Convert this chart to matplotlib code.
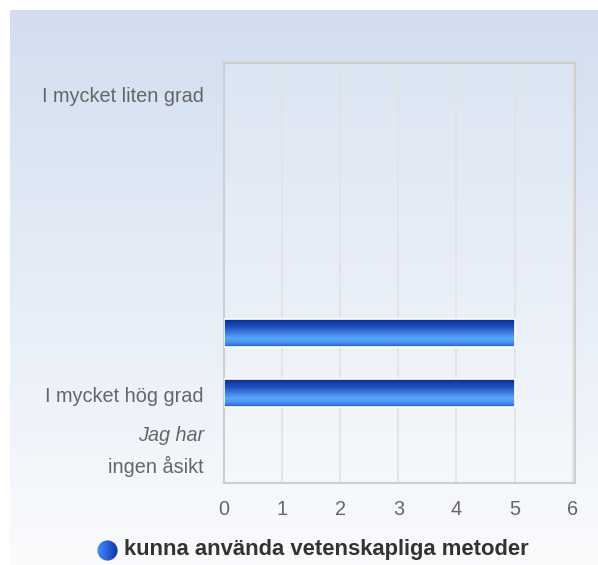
import numpy as np
import matplotlib.pyplot as plt
from matplotlib.colors import LinearSegmentedColormap
from matplotlib.patches import Circle

# data
categories = ["I mycket liten grad", "", "", "", "", "I mycket hög grad", "Jag har ingen åsikt"]
values = [0, 0, 0, 0, 5, 5, 0]
series_name = "kunna använda vetenskapliga metoder"
x_ticks = [0, 1, 2, 3, 4, 5, 6]

W, H = 598, 565
FS = 14.3
fig = plt.figure(figsize=(W / 100, H / 100), dpi=100)
fig.patch.set_facecolor("white")

# background gradient panel
bg_cmap = LinearSegmentedColormap.from_list("bg", ["#d2deef", "#e6edf7", "#fafbfd"])
bg = fig.add_axes([10 / W, 0, 1 - 10 / W, 1 - 10 / H])
bg.imshow(np.linspace(0, 1, 256).reshape(-1, 1), aspect="auto", cmap=bg_cmap,
          extent=[0, 1, 0, 1])
bg.set_axis_off()

# plot area
left, right, top, bottom = 224, 575, 63, 483
ax = fig.add_axes([left / W, 1 - bottom / H, (right - left) / W, (bottom - top) / H])
ax.set_facecolor((1, 1, 1, 0.15))

y = np.arange(len(categories))
bars = ax.barh(y, values, height=0.47, color="#2a6ad8", edgecolor="none", zorder=3)

bar_cmap = LinearSegmentedColormap.from_list(
    "bar", [(0.0, "#0a2a86"), (0.3, "#1d4fc0"), (0.7, "#5aa6fb"), (0.85, "#4a92f0"), (1.0, "#1f62d6")])
grad = np.linspace(0, 1, 64).reshape(-1, 1)
for b in bars:
    if b.get_width() <= 0:
        continue
    x0, y0 = b.get_x(), b.get_y()
    w, h = b.get_width(), b.get_height()
    im = ax.imshow(grad, aspect="auto", cmap=bar_cmap, extent=[x0, x0 + w, y0 + h, y0],
                   zorder=3.5)
    im.set_clip_path(b)
    ax.add_patch(plt.Rectangle((x0, y0), w, h, fill=False, edgecolor="white", linewidth=1.2, zorder=4))

ax.set_xlim(0, 6.04)
ax.set_ylim(len(categories) - 0.5, -0.5)
ax.set_xticks(x_ticks)
ax.set_xticklabels([str(t) for t in x_ticks], fontsize=FS, color="#666666",
                   fontfamily="Liberation Sans")
ax.tick_params(axis="x", length=0, pad=12)
ax.tick_params(axis="y", length=0)
ax.set_yticks(y)
ax.set_yticklabels([])
ax.grid(axis="x", color="#e2e2e2", linewidth=1.2, zorder=0)
ax.set_axisbelow(True)
for s in ax.spines.values():
    s.set_color("#cfcfcf")
    s.set_linewidth(1.5)

# category labels
lx = -20 / 58
for i, lab in enumerate(categories):
    if not lab:
        continue
    if lab == "Jag har ingen åsikt":
        ax.text(lx, i - 0.3, "Jag har", ha="right", va="center", fontsize=FS,
                color="#666666", style="italic", fontfamily="Liberation Sans")
        ax.text(lx, i + 0.23, "ingen åsikt", ha="right", va="center", fontsize=FS,
                color="#666666", fontfamily="Liberation Sans")
    else:
        ax.text(lx, i + 0.05, lab, ha="right", va="center", fontsize=FS,
                color="#666666", fontfamily="Liberation Sans")

# legend
fig.text(124 / W, 1 - 549 / H, series_name, ha="left", va="center", fontsize=15.8,
         fontweight="bold", color="#333333", fontfamily="Liberation Sans")
lg = fig.add_axes([97 / W, 1 - 561 / H, 21 / W, 21 / H])
lg.set_axis_off()
lg.set_xlim(0, 1)
lg.set_ylim(0, 1)
circ = Circle((0.5, 0.5), 0.48, transform=lg.transData, facecolor="none", edgecolor="none")
lg.add_patch(circ)
leg_cmap = LinearSegmentedColormap.from_list("leg", ["#4a8ef5", "#2a62d8", "#13309a"])
im = lg.imshow(np.linspace(0, 1, 64).reshape(1, -1), aspect="auto", cmap=leg_cmap,
               extent=[0, 1, 0, 1])
im.set_clip_path(circ)

fig.savefig("out.png", dpi=100)
